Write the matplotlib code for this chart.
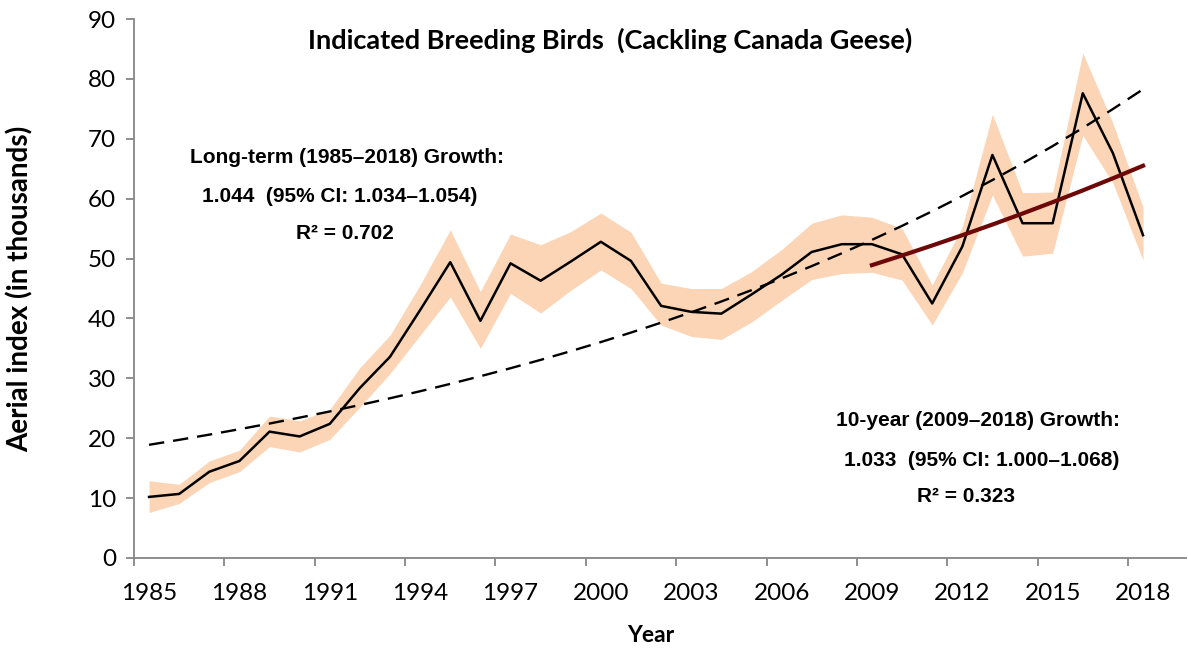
import numpy as np
import matplotlib.pyplot as plt

years = list(range(1985, 2019))
index = [10.2, 10.7, 14.4, 16.2, 21.1, 20.3, 22.4, 28.4, 33.6, 41.4,
         49.4, 39.6, 49.2, 46.3, 49.5, 52.8, 49.6, 42.1, 41.1, 40.8,
         44.0, 47.3, 51.1, 52.4, 52.4, 50.7, 42.5, 52.0, 67.3, 55.9,
         55.9, 77.6, 67.6, 53.9]
ci_upper = [12.9, 12.3, 16.2, 18.0, 23.7, 22.9, 24.8, 31.8, 37.2, 45.6,
            54.8, 44.5, 54.1, 52.3, 54.5, 57.6, 54.4, 45.9, 45.0, 45.0,
            47.8, 51.5, 55.9, 57.3, 56.9, 55.0, 45.6, 55.3, 74.1, 61.0,
            61.1, 84.3, 72.6, 58.6]
ci_lower = [7.6, 9.1, 12.6, 14.4, 18.6, 17.7, 19.8, 25.2, 30.8, 37.2,
            43.6, 35.0, 44.2, 40.9, 44.7, 48.1, 45.0, 38.9, 37.0, 36.5,
            39.4, 43.0, 46.5, 47.5, 47.7, 46.4, 38.9, 47.6, 60.6, 50.4,
            50.9, 70.6, 62.6, 49.7]

# trend lines (exponential growth)
lt_years = (1985, 2018)
lt_start, lt_rate = 18.9, 1.044
st_years = (2009, 2018)
st_start, st_rate = 48.9, 1.033

tick_years = list(range(1985, 2019, 3))

W, H = 1188, 652
fig = plt.figure(figsize=(W / 100, H / 100), dpi=100)
ax = fig.add_axes([134 / W, 1 - 558 / H, (1186 - 134) / W, (558 - 19) / H])

ax.fill_between(years, ci_lower, ci_upper, color="#FBD5B5", lw=0)
ax.plot(years, index, color="black", lw=1.8, zorder=3)

lt_x = np.arange(lt_years[0], lt_years[1] + 1)
ax.plot(lt_x, lt_start * lt_rate ** (lt_x - lt_years[0]), color="black",
        lw=1.7, dashes=(6.5, 3.8), zorder=4)
st_x = np.arange(st_years[0], st_years[1] + 1)
ax.plot(st_x, st_start * st_rate ** (st_x - st_years[0]), color="#6E0808",
        lw=3.0, zorder=5)

ax.set_xlim(1984.5, 1984.5 + (1186 - 134) / 30.12)
ax.set_ylim(0, 90)
ax.set_yticks(range(0, 91, 10))
ax.set_xticks([y - 0.5 for y in tick_years])
ax.set_xticklabels([])
ax.set_xticks(tick_years, minor=True)
ax.set_xticklabels([str(y) for y in tick_years], minor=True)

for s in ["top", "right"]:
    ax.spines[s].set_visible(False)
for s in ["left", "bottom"]:
    ax.spines[s].set_color("#868686")
    ax.spines[s].set_linewidth(1.3)
ax.tick_params(axis="both", which="major", color="#868686", width=1.3,
               length=6, direction="out")
ax.tick_params(axis="x", which="minor", length=0, pad=18)
ax.tick_params(axis="y", pad=7)
for lab in ax.get_yticklabels() + ax.get_xticklabels(minor=True):
    lab.set_fontfamily("Lato")
    lab.set_fontsize(17.5)

ax.set_ylabel("Aerial index (in thousands)", fontsize=20, fontweight="bold",
              family="Lato")
ax.yaxis.set_label_coords(-0.095, 0.5)
fig.text(651 / W, 1 - 636 / H, "Year", ha="center", va="center",
         fontsize=16.5, fontweight="bold", family="Lato")

fig.text(610 / W, 1 - 40 / H, "Indicated Breeding Birds  (Cackling Canada Geese)",
         ha="center", va="center", fontsize=19.5, fontweight="bold", family="Lato")

ann = dict(ha="center", va="center", fontsize=15, fontweight="bold",
           family="Liberation Sans")
fig.text(347 / W, 1 - 158 / H, "Long-term (1985\u20132018) Growth:", **ann)
fig.text(340 / W, 1 - 197 / H, "1.044  (95% CI: 1.034\u20131.054)", **ann)
fig.text(345 / W, 1 - 233 / H, "R\u00b2 = 0.702", **ann)
fig.text(978 / W, 1 - 420 / H, "10-year (2009\u20132018) Growth:", **ann)
fig.text(982 / W, 1 - 461 / H, "1.033  (95% CI: 1.000\u20131.068)", **ann)
fig.text(966 / W, 1 - 497 / H, "R\u00b2 = 0.323", **ann)

fig.savefig("out.png", dpi=100)
